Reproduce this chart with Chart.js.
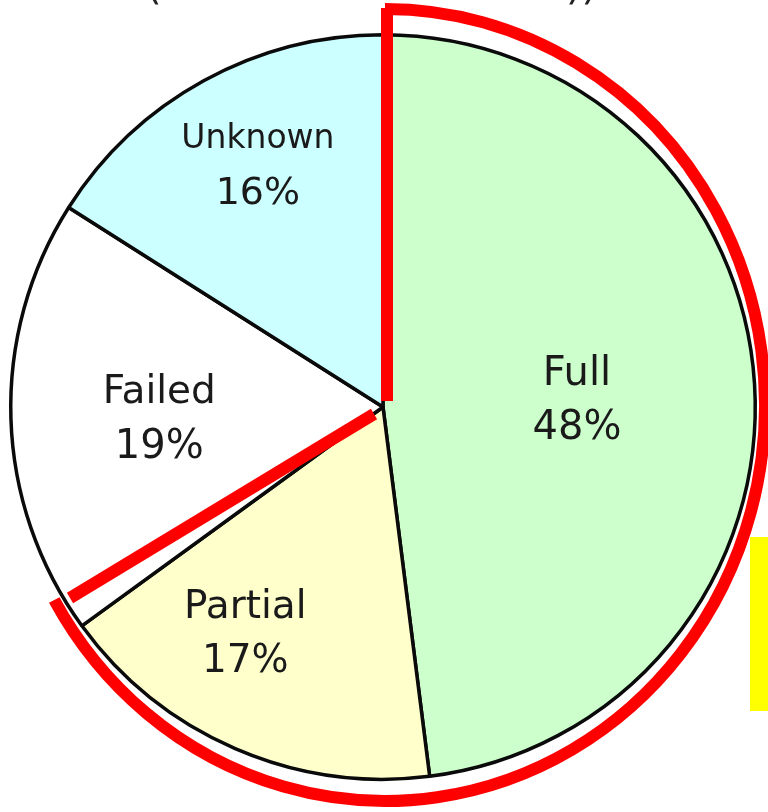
<!DOCTYPE html>
<html>
<head>
<meta charset="utf-8">
<script src="https://cdn.jsdelivr.net/npm/chart.js@4/dist/chart.umd.min.js"></script>
<style>
  html, body { margin: 0; padding: 0; background: #ffffff; }
  #wrap { position: relative; width: 768px; height: 812px; overflow: hidden; }
  #hl { position: absolute; left: 750px; top: 537px; width: 18px; height: 174px; background: #ffff00; }
</style>
</head>
<body>
<div id="wrap">
  <canvas id="c" width="768" height="812"></canvas>
  <div id="hl"></div>
</div>
<script>
// ---- data ----
const categories = ["Full", "Partial", "Failed", "Unknown"];
const percentValues = [48, 17, 19, 16];
const percentLabels = ["48%", "17%", "19%", "16%"];
const sliceColors = ["#ccffcc", "#ffffcc", "#ffffff", "#ccffff"];

// label anchor offsets in units of pie radius (placement only)
const labelAnchors = [
  { fx: 0.521, fy: -0.027, nameSize: 40, valSize: 40 },
  { fx: -0.370, fy: 0.600, nameSize: 39, valSize: 39 },
  { fx: -0.601, fy: 0.024, nameSize: 39, valSize: 40 },
  { fx: -0.336, fy: -0.655, nameSize: 33, valSize: 38 }
];

const labelPlugin = {
  id: 'sliceLabels',
  afterDatasetsDraw(chart) {
    const ctx = chart.ctx;
    const meta = chart.getDatasetMeta(0);
    ctx.save();
    ctx.fillStyle = '#1a1a1a';
    ctx.textAlign = 'center';
    ctx.textBaseline = 'alphabetic';
    meta.data.forEach((arc, i) => {
      const a = labelAnchors[i];
      const r = arc.outerRadius;
      const cx = arc.x + a.fx * r;
      const cy = arc.y + a.fy * r;
      const gap = 54;
      ctx.font = a.nameSize + 'px "DejaVu Sans", Verdana, sans-serif';
      ctx.fillText(categories[i], cx, cy - gap / 2 + 0.365 * a.nameSize);
      ctx.font = a.valSize + 'px "DejaVu Sans", Verdana, sans-serif';
      ctx.fillText(percentLabels[i], cx, cy + gap / 2 + 0.365 * a.valSize);
    });
    ctx.restore();
  }
};

const annotationPlugin = {
  id: 'redOutline',
  afterDraw(chart) {
    const ctx = chart.ctx;
    const arc = chart.getDatasetMeta(0).data[0];
    const cx = arc.x, cy = arc.y;
    ctx.save();
    ctx.strokeStyle = '#ff0000';
    ctx.lineWidth = 12;
    ctx.lineCap = 'butt';
    // outer arc around Full + Partial
    ctx.beginPath();
    ctx.ellipse(cx + 2, cy - 2, 380, 396, 0, 150.5 * Math.PI / 180, -90 * Math.PI / 180, true);
    ctx.stroke();
    // vertical line at the top
    ctx.beginPath();
    ctx.moveTo(cx + 4, cy - 399);
    ctx.lineTo(cx + 4, cy - 6);
    ctx.stroke();
    // diagonal line
    ctx.beginPath();
    ctx.moveTo(cx - 9, cy + 7);
    ctx.lineTo(cx - 313, cy + 191);
    ctx.stroke();
    // clipped title remnants at the very top
    ctx.fillStyle = '#222222';
    ctx.font = '40px "DejaVu Sans", Verdana, sans-serif';
    ctx.textAlign = 'left';
    ctx.textBaseline = 'alphabetic';
    ctx.fillText('(', 146, -1);
    ctx.fillText('))', 566, -1);
    ctx.restore();
  }
};

new Chart(document.getElementById('c'), {
  type: 'pie',
  data: {
    labels: categories,
    datasets: [{
      data: percentValues,
      backgroundColor: sliceColors,
      borderColor: '#0a0a0a',
      borderWidth: 3.5
    }]
  },
  options: {
    responsive: false,
    animation: false,
    layout: { padding: { left: 9, right: 11, top: 33, bottom: 31 } },
    plugins: {
      legend: { display: false },
      tooltip: { enabled: false },
      title: { display: false }
    }
  },
  plugins: [labelPlugin, annotationPlugin]
});
</script>
</body>
</html>
